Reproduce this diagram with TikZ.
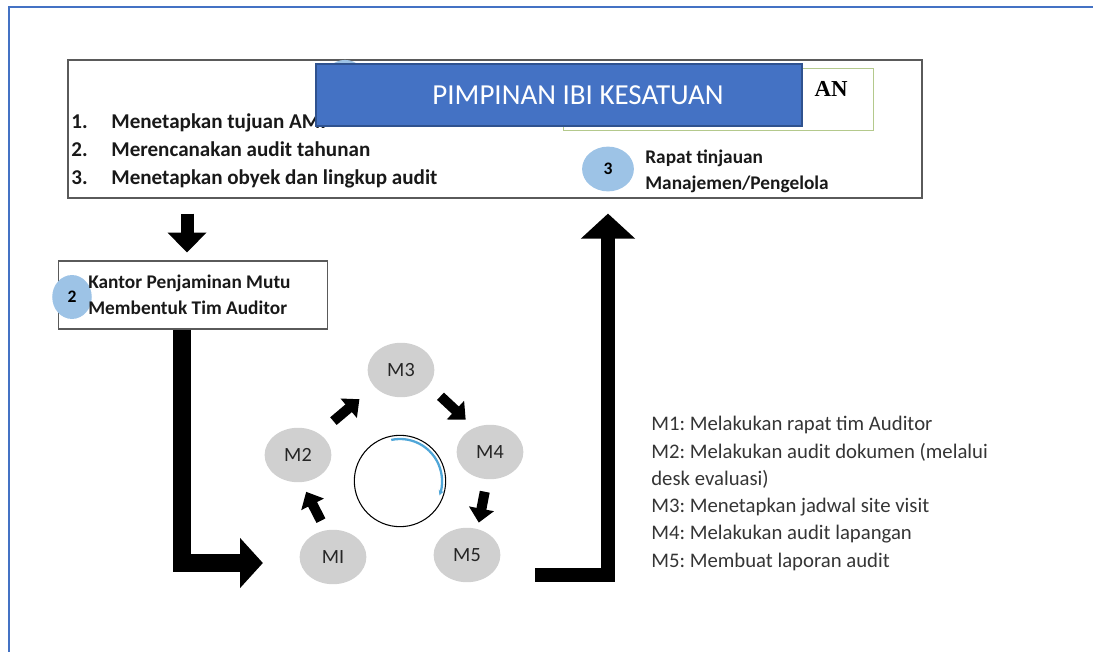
\documentclass[tikz,border=0pt]{standalone}
\usepackage{fontspec}
\setmainfont{Carlito}
\newfontfamily\titleserif{Liberation Serif}
\usetikzlibrary{arrows.meta,shapes.geometric}
\definecolor{frameblue}{HTML}{4472C4}
\definecolor{titleblue}{HTML}{4472C4}
\definecolor{titleedge}{HTML}{2F528F}
\definecolor{stepgray}{HTML}{D0D0D0}
\definecolor{dotblue}{HTML}{9DC3E6}
\definecolor{boxedge}{HTML}{5A5A5A}
\definecolor{greenedge}{HTML}{B4C98C}
\definecolor{legendtext}{HTML}{353535}
\definecolor{arcblue}{HTML}{4FA6D8}
\frenchspacing
\begin{document}
\begin{tikzpicture}[x=0.02cm,y=-0.02cm]
    \tikzstyle{stepnode}=[ellipse,fill=stepgray,minimum width=38pt,minimum height=31pt,inner sep=0pt,text=black!85,font=\fontsize{11.5}{13}\selectfont];
    \tikzstyle{numdot}=[ellipse,fill=dotblue,inner sep=0pt,font=\bfseries\fontsize{10}{12}\selectfont];
    \tikzstyle{listtext}=[anchor=base west,inner sep=0pt,text=black!90,font=\bfseries\fontsize{12}{14}\selectfont];
    \tikzstyle{boldtext}=[anchor=west,inner sep=0pt,text=black!90,font=\bfseries\fontsize{11}{13}\selectfont];
    \tikzstyle{legend}=[anchor=west,inner sep=0pt,text=legendtext,font=\fontsize{11.8}{14}\selectfont];
    \tikzstyle{cyclearrow}=[line width=5.7pt,-{Triangle[length=8pt,width=14pt]}];
    \useasboundingbox (0,0) rectangle (1093,652);
    \draw[frameblue,line width=1.2pt] (9,700) -- (9,7) -- (1200,7);

    % top box with the three tasks
    \node[draw=boxedge,line width=1.1pt,minimum width=486.4pt,minimum height=78.2pt,inner sep=0pt] (planbox) at (495,129) {};
    \node[draw=greenedge,line width=0.6pt,minimum width=176.3pt,minimum height=35.7pt,inner sep=0pt] (kesatuan) at (718.5,99.5) {};
    \node[anchor=east,inner sep=0pt,font=\titleserif\bfseries\fontsize{13}{15}\selectfont] (kesatuanlbl) at (848,89) {AN};
    \node[numdot,minimum width=24pt,minimum height=24pt] (dot1) at (345,81) {};
    \foreach \n/\txt [count=\i] in {1./Menetapkan tujuan AMI,2./Merencanakan audit tahunan,3./Menetapkan obyek dan lingkup audit}
    {
      \node[listtext] (num\i) at (71,101+28*\i) {\n};
      \node[listtext] (aim\i) at (111,101+28*\i) {\txt};
    }
    \node[numdot,minimum width=29.5pt,minimum height=25.5pt] (dot3) at (608,169) {3};
    \node[boldtext] (rapat) at (645,158) {Rapat tinjauan};
    \node[boldtext] (manajemen) at (645,184) {Manajemen/Pengelola};
    \node[fill=titleblue,draw=titleedge,line width=0.8pt,minimum width=276.6pt,minimum height=35.1pt,inner sep=0pt] (pimpinan) at (559,95) {};
    \node[text=white,inner sep=0pt,font=\fontsize{16.5}{19}\selectfont] (pimpinanlbl) at (578,95) {PIMPINAN IBI KESATUAN};

    % auditor team box
    \node[draw=boxedge,line width=0.9pt,minimum width=153pt,minimum height=38.5pt,inner sep=0pt] (tim) at (193,295) {};
    \node[numdot,minimum width=22.5pt,minimum height=25pt] (dot2) at (72,297) {2};
    \node[boldtext] (kantor) at (88,283) {Kantor Penjaminan Mutu};
    \node[boldtext] (membentuk) at (88,308) {Membentuk Tim Auditor};

    % audit cycle
    \node[stepnode] (m1) at (333,557) {MI};
    \node[stepnode] (m2) at (298,455) {M2};
    \node[stepnode] (m3) at (401,370) {M3};
    \node[stepnode] (m4) at (490,452) {M4};
    \node[stepnode] (m5) at (467,555) {M5};
    \node[circle,draw,line width=0.6pt,minimum size=52pt,inner sep=0pt] (ring) at (400,481) {};
    \draw[arcblue,line width=1.3pt,-{Stealth[length=3pt,width=3pt]}] ([shift={(-102:42)}]ring.center) arc[start angle=-102,end angle=20,radius=42];

    \draw[cyclearrow,shorten <=6pt,shorten >=6pt] (m1.105) -- (m2.277);
    \draw[cyclearrow,shorten <=10.8pt,shorten >=11pt] (m2.46) -- (m3.212);
    \draw[cyclearrow,shorten <=9pt,shorten >=6.6pt] (m3.331) -- (m4.123);
    \draw[cyclearrow,shorten <=7.1pt,shorten >=3.6pt] (m4.264) -- (m5.68);

    % big flow arrows
    \coordinate (downx) at (187,0);
    \coordinate (lbend) at (182,563);
    \coordinate (rbend) at (608,575);
    \draw[line width=7.4pt,-{Triangle[length=11.3pt,width=21.5pt]},shorten <=8.5pt,shorten >=4.5pt] (planbox.south -| downx) -- (tim.north -| downx);
    \draw[line width=10.8pt,-{Triangle[length=13pt,width=27.8pt]},shorten >=20.7pt] (tim.south -| lbend) -- (lbend) -- (m1.west |- lbend);
    \draw[line width=8.5pt,-{Triangle[length=14.2pt,width=30pt]},shorten <=19.6pt,shorten >=8.5pt] (m5.east |- rbend) -- (rbend) -- (rbend |- planbox.south);

    % legend
    \foreach \txt [count=\i] in {{M1: Melakukan rapat tim Auditor},{M2: Melakukan audit dokumen (melalui},{desk evaluasi)},{M3: Menetapkan jadwal site visit},{M4: Melakukan audit lapangan},{M5: Membuat laporan audit}}
      \node[legend] (legend\i) at (651,397.5+27.4*\i) {\txt};
\end{tikzpicture}
\end{document}
